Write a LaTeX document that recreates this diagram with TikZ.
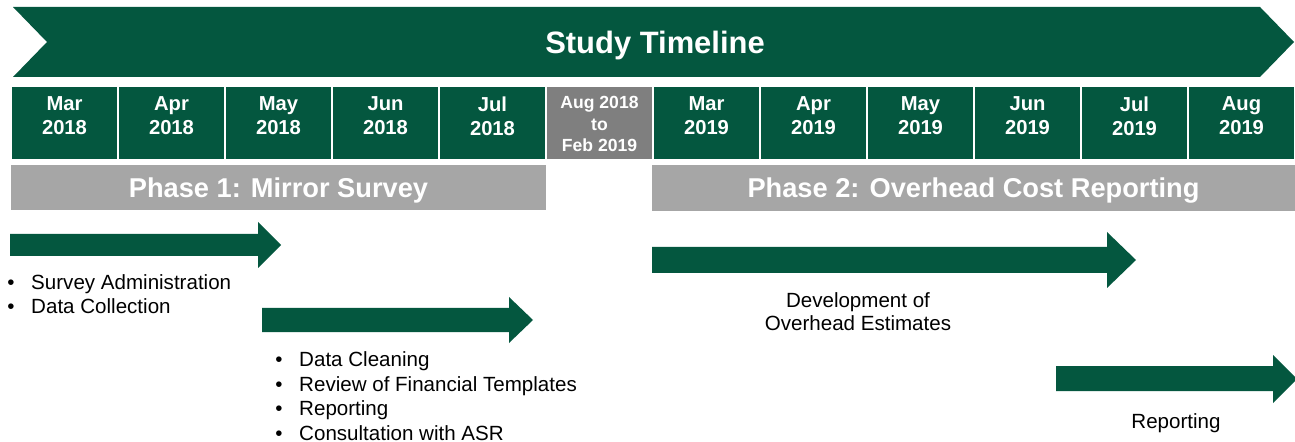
\documentclass[tikz,border=0pt]{standalone}
\usepackage{fontspec}
\setmainfont{Liberation Sans}
\definecolor{forest}{HTML}{04573F}
\definecolor{gapgray}{HTML}{7F7F7F}
\definecolor{phasegray}{HTML}{A6A6A6}
% bullet line: fixed-width bullet, then the text
\newcommand\tlitem[1]{\makebox[13.6pt][l]{\textbullet}#1}
\begin{document}
\begin{tikzpicture}[x=0.02cm,y=-0.02cm,
  monthbox/.style={fill=forest, draw=white, line width=0.8pt, minimum width=2.14cm,
    minimum height=1.48cm, inner sep=0pt},
  gapbox/.style={monthbox, fill=gapgray},
  monthtext/.style={text=white, align=center, inner sep=0pt, yshift=0.14cm,
    font=\bfseries\fontsize{11.5}{13.6}\selectfont},
  gaptext/.style={text=white, align=center, inner sep=0pt, yshift=-0.024cm,
    font=\bfseries\fontsize{10}{12.2}\selectfont},
  phasebar/.style={fill=phasegray, inner sep=0pt, text=white, text depth=0pt,
    font=\bfseries\fontsize{15.5}{18}\selectfont},
  titletext/.style={text=white, inner sep=0pt, text depth=0pt,
    font=\bfseries\fontsize{17.6}{20}\selectfont},
  blockarrow/.style={fill=forest},
  bodytext/.style={inner sep=0pt, align=left, font=\fontsize{11.7}{13.9}\selectfont},
  centertext/.style={inner sep=0pt, align=center, font=\fontsize{11.7}{13.2}\selectfont}]
\useasboundingbox (0,0) rectangle (1295,442);

% title banner
\fill[forest] (13,7) -- (1260,7) -- (1294,42) -- (1260,77) -- (13,77) -- (47,42) -- cycle;
\node[titletext] (title) at (655,42) {Study Timeline};

% month cells
\node[monthbox] (m1) at (64.5,123) {};
\node[monthtext] (t1) at (m1) {Mar\\2018};
\node[monthbox] (m2) at (171.5,123) {};
\node[monthtext] (t2) at (m2) {Apr\\2018};
\node[monthbox] (m3) at (278.5,123) {};
\node[monthtext] (t3) at (m3) {May\\2018};
\node[monthbox] (m4) at (385.5,123) {};
\node[monthtext] (t4) at (m4) {Jun\\2018};
\node[monthbox] (m5) at (492.5,123) {};
\node[monthtext] (t5) at (m5) {Jul\\2018};
\node[gapbox] (m6) at (599.5,123) {};
\node[gaptext] (t6) at (m6) {Aug 2018\\to\\Feb 2019};
\node[monthbox] (m7) at (706.5,123) {};
\node[monthtext] (t7) at (m7) {Mar\\2019};
\node[monthbox] (m8) at (813.5,123) {};
\node[monthtext] (t8) at (m8) {Apr\\2019};
\node[monthbox] (m9) at (920.5,123) {};
\node[monthtext] (t9) at (m9) {May\\2019};
\node[monthbox] (m10) at (1027.5,123) {};
\node[monthtext] (t10) at (m10) {Jun\\2019};
\node[monthbox] (m11) at (1134.5,123) {};
\node[monthtext] (t11) at (m11) {Jul\\2019};
\node[monthbox] (m12) at (1241.5,123) {};
\node[monthtext] (t12) at (m12) {Aug\\2019};

% phase bars
\node[phasebar, minimum width=10.7cm, minimum height=0.9cm] (p1) at (278.5,187.5) {Phase 1: Mirror Survey};
\node[phasebar, minimum width=12.86cm, minimum height=0.92cm] (p2) at (973.5,188) {Phase 2: Overhead Cost Reporting};

% activity arrows
\fill[blockarrow] (10,234) -- (258,234) -- (258,222) -- (281,245) -- (258,268) -- (258,256) -- (10,256) -- cycle;
\fill[blockarrow] (262,308) -- (509,308) -- (509,297) -- (533,320) -- (509,343) -- (509,332) -- (262,332) -- cycle;
\fill[blockarrow] (652,247) -- (1107,247) -- (1107,232) -- (1136,260) -- (1107,288) -- (1107,273) -- (652,273) -- cycle;
\fill[blockarrow] (1056,366) -- (1273,366) -- (1273,355) -- (1297,379) -- (1273,403) -- (1273,391) -- (1056,391) -- cycle;

% activity descriptions (anchored at the baseline of the last line)
\node[bodytext, anchor=base west] (a1) at (7,314)
  {\tlitem{Survey Administration}\\\tlitem{Data Collection}};
\node[bodytext, anchor=base west] (a2) at (275,440)
  {\tlitem{Data Cleaning}\\\tlitem{Review of Financial Templates}\\\tlitem{Reporting}\\\tlitem{Consultation with ASR}};
\node[centertext, anchor=base] (a3) at (858,331) {Development of\\Overhead Estimates};
\node[centertext, anchor=base] (a4) at (1176,428) {Reporting};
\end{tikzpicture}
\end{document}
